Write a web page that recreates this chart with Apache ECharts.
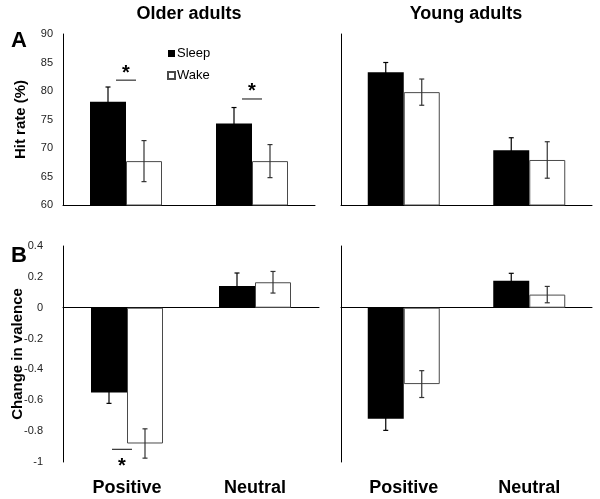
<!DOCTYPE html>
<html>
<head>
<meta charset="utf-8">
<script src="https://cdn.jsdelivr.net/npm/echarts@6/dist/echarts.min.js"></script>
<style>html,body{margin:0;padding:0;background:#fff}#c{width:600px;height:499px}</style>
</head>
<body>
<div id="c"></div>
<script>
// ---- data ----
const categories = ['Positive', 'Neutral'];
const groups = ['Older adults', 'Young adults'];
const hitTicks = [60, 90, 5];            // min, max, interval
const valenceTicks = [-1, 0.4, 0.2];

const olderHitSleep = [78.1, 74.3];
const olderHitSleepErr = [2.6, 2.8];
const olderHitWake = [67.7, 67.7];
const olderHitWakeErr = [3.6, 2.9];

const youngHitSleep = [83.3, 69.6];
const youngHitSleepErr = [1.7, 2.2];
const youngHitWake = [79.8, 67.9];
const youngHitWakeErr = [2.3, 3.2];

const olderValSleep = [-0.55, 0.14];
const olderValSleepErr = [0.07, 0.085];
const olderValWake = [-0.88, 0.165];
const olderValWakeErr = [0.095, 0.07];

const youngValSleep = [-0.72, 0.175];
const youngValSleepErr = [0.075, 0.048];
const youngValWake = [-0.495, 0.085];
const youngValWakeErr = [0.087, 0.053];

// significance markers: [category index, value of bar line, star side]
const olderHitSig = [[0, 81.9, 'above'], [1, 78.6, 'above']];
const olderValSig = [[0, -0.918, 'below']];

// ---- style ----
const FONT = '"Liberation Sans", Arial, Helvetica, sans-serif';
const BAR_W = 36;
const SLEEP_COLOR = '#000';
const WAKE_BORDER = '#4a4a4a';

const chart = echarts.init(document.getElementById('c'));

const grids = [
  {left: 63, top: 34, width: 252, height: 171},
  {left: 341, top: 34, width: 251, height: 171},
  {left: 63, top: 246, width: 256, height: 216},
  {left: 341, top: 246, width: 251, height: 216}
];

function xAx(g) {
  return {
    type: 'category', gridIndex: g, data: categories,
    axisLine: {show: true, onZero: true, lineStyle: {color: '#000', width: 1}},
    axisTick: {show: false}, axisLabel: {show: false}, splitLine: {show: false}
  };
}
function labelAx(g) {
  return {
    type: 'category', gridIndex: g, data: categories, position: 'bottom',
    axisLine: {show: false, onZero: false}, axisTick: {show: false},
    axisLabel: {show: true, margin: 17, color: '#000', fontFamily: FONT, fontWeight: 'bold', fontSize: 18}
  };
}
function yAx(g, ticks, showLabels, name, gap) {
  return {
    type: 'value', gridIndex: g, min: ticks[0], max: ticks[1], interval: ticks[2],
    axisLine: {show: true, lineStyle: {color: '#000', width: 1}},
    axisTick: {show: false}, splitLine: {show: false},
    axisLabel: {show: showLabels, color: '#222', fontFamily: FONT, fontSize: 11, margin: showLabels && g === 2 ? 20 : 10},
    name: name || '', nameLocation: 'middle', nameGap: gap || 0, nameMoveOverlap: false,
    nameTextStyle: {color: '#000', fontFamily: FONT, fontWeight: 'bold', fontSize: 15}
  };
}

function barPair(g, sleep, wake) {
  return [
    {name: 'Sleep', type: 'bar', xAxisIndex: g, yAxisIndex: g, data: sleep, barWidth: BAR_W, barGap: '0%',
     itemStyle: {color: SLEEP_COLOR}, z: 2},
    {name: 'Wake', type: 'bar', xAxisIndex: g, yAxisIndex: g, data: wake, barWidth: BAR_W, barGap: '0%',
     itemStyle: {color: '#fff', borderColor: WAKE_BORDER, borderWidth: 1}, z: 2}
  ];
}

function errSeries(g, vals, errs, side, color) {
  return {
    type: 'custom', xAxisIndex: g, yAxisIndex: g, z: 5, silent: true,
    data: vals.map((v, i) => [i, v, errs[i]]),
    renderItem: function (params, api) {
      const c = api.value(0), v = api.value(1), e = api.value(2);
      const hi = api.coord([c, v + e]);
      const lo = api.coord([c, v - e]);
      const x = hi[0] + side * BAR_W / 2;
      const cap = 2.5;
      const st = {stroke: color, lineWidth: 1.2};
      return {type: 'group', children: [
        {type: 'line', shape: {x1: x, y1: hi[1], x2: x, y2: lo[1]}, style: st},
        {type: 'line', shape: {x1: x - cap, y1: hi[1], x2: x + cap, y2: hi[1]}, style: st},
        {type: 'line', shape: {x1: x - cap, y1: lo[1], x2: x + cap, y2: lo[1]}, style: st}
      ]};
    }
  };
}

function sigSeries(g, sig, dx) {
  return {
    type: 'custom', xAxisIndex: g, yAxisIndex: g, z: 6, silent: true,
    data: sig.map(s => [s[0], s[1], s[2] === 'above' ? 1 : -1]),
    renderItem: function (params, api) {
      const p = api.coord([api.value(0), api.value(1)]);
      const up = api.value(2) > 0;
      const x = p[0] + dx;
      return {type: 'group', children: [
        {type: 'line', shape: {x1: x - 10, y1: p[1], x2: x + 10, y2: p[1]}, style: {stroke: '#333', lineWidth: 1.2}},
        {type: 'text', style: {text: '*', x: x, y: up ? p[1] + 3 : p[1] + 7, textAlign: 'center',
          textVerticalAlign: up ? 'bottom' : 'top', fontFamily: FONT, fontWeight: 'bold', fontSize: 20, fill: '#000'}}
      ]};
    }
  };
}

const option = {
  animation: false,
  backgroundColor: '#fff',
  grid: grids,
  xAxis: [xAx(0), xAx(1), xAx(2), xAx(3), labelAx(2), labelAx(3)],
  yAxis: [
    yAx(0, hitTicks, true, 'Hit rate (%)', 35),
    yAx(1, hitTicks, false),
    yAx(2, valenceTicks, true, 'Change in valence', 38),
    yAx(3, valenceTicks, false)
  ],
  legend: {
    data: ['Sleep', 'Wake'], orient: 'vertical', left: 162, top: 42,
    icon: 'rect', itemWidth: 7, itemHeight: 7, itemGap: 9,
    textStyle: {fontFamily: FONT, fontSize: 13, color: '#000', padding: [0, 0, 0, -3]}
  },
  graphic: [
    {type: 'text', x: 189, y: 14, style: {text: groups[0], textAlign: 'center', textVerticalAlign: 'middle', fontFamily: FONT, fontWeight: 'bold', fontSize: 18, fill: '#000'}},
    {type: 'text', x: 466, y: 14, style: {text: groups[1], textAlign: 'center', textVerticalAlign: 'middle', fontFamily: FONT, fontWeight: 'bold', fontSize: 18, fill: '#000'}},
    {type: 'text', x: 11, y: 41, style: {text: 'A', textVerticalAlign: 'middle', fontFamily: FONT, fontWeight: 'bold', fontSize: 22, fill: '#000'}},
    {type: 'text', x: 11, y: 256, style: {text: 'B', textVerticalAlign: 'middle', fontFamily: FONT, fontWeight: 'bold', fontSize: 22, fill: '#000'}}
  ],
  series: [
    ...barPair(0, olderHitSleep, olderHitWake),
    ...barPair(1, youngHitSleep, youngHitWake),
    ...barPair(2, olderValSleep, olderValWake),
    ...barPair(3, youngValSleep, youngValWake),
    errSeries(0, olderHitSleep, olderHitSleepErr, -1, '#000'),
    errSeries(0, olderHitWake, olderHitWakeErr, 1, '#333'),
    errSeries(1, youngHitSleep, youngHitSleepErr, -1, '#000'),
    errSeries(1, youngHitWake, youngHitWakeErr, 1, '#333'),
    errSeries(2, olderValSleep, olderValSleepErr, -1, '#000'),
    errSeries(2, olderValWake, olderValWakeErr, 1, '#333'),
    errSeries(3, youngValSleep, youngValSleepErr, -1, '#000'),
    errSeries(3, youngValWake, youngValWakeErr, 1, '#333'),
    sigSeries(0, olderHitSig, 0),
    sigSeries(2, olderValSig, -5)
  ]
};
chart.setOption(option);
</script>
</body>
</html>
